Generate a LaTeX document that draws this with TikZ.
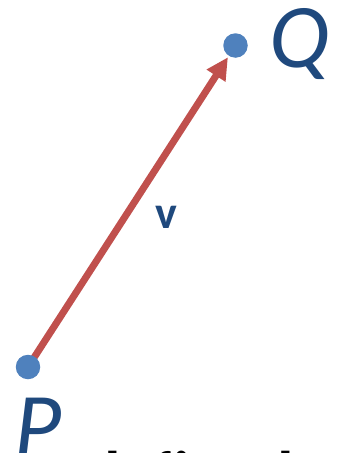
\documentclass[tikz,border=0pt]{standalone}
\usepackage{fontspec}
\setmainfont{Carlito}
\usetikzlibrary{arrows.meta}
\definecolor{dotblue}{HTML}{4F81BD}
\definecolor{arrred}{HTML}{C0504D}
\definecolor{txtblue}{HTML}{1F497D}
\pgfdeclarelayer{bg}
\pgfsetlayers{bg,main}
\begin{document}
\begin{tikzpicture}[x=1pt,y=-1pt,
  pt/.style={circle,fill=dotblue,inner sep=0pt,minimum size=24.5pt},
  ptlabel/.style={text=txtblue,inner sep=0pt,font=\fontsize{91}{91}\selectfont\itshape},
  veclabel/.style={text=txtblue,inner sep=0pt,font=\fontsize{46}{46}\selectfont\bfseries},
  caption/.style={text=black,inner sep=0pt,font=\fontsize{66}{66}\selectfont\bfseries},
  vec/.style={draw=arrred,line width=7pt,-{Triangle[length=22pt,width=21pt]}}]
\useasboundingbox (0,0) rectangle (341,453);
\clip (0,0) rectangle (341,453);
\node[pt] (P) at (28,367) {};
\node[pt] (Q) at (235.5,45.5) {};
\begin{pgfonlayer}{bg}
\draw[vec,shorten >=1.5pt] (P.center) -- (Q);
\end{pgfonlayer}
\node[veclabel,anchor=base] (v) at (166,228) {v};
\node[ptlabel,anchor=base west] (Qlabel) at (269,67) {Q};
\node[ptlabel,anchor=base west] (Plabel) at (14,456) {P};
\node[caption,anchor=base west] (cap) at (47,497) {t defined};
\end{tikzpicture}
\end{document}
